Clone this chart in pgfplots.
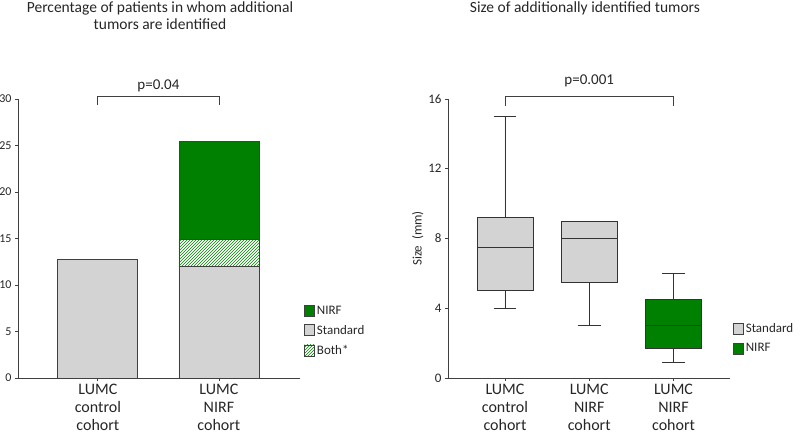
\documentclass[border=0pt]{standalone}
\usepackage{pgfplots}
\pgfplotsset{compat=1.18}
\usepgfplotslibrary{statistics}
\usetikzlibrary{patterns}
\usepackage{fontspec}
\setmainfont{Carlito}
\definecolor{nirf}{RGB}{0,128,0}
\definecolor{std}{RGB}{211,211,211}
\definecolor{edge}{RGB}{64,64,64}
\pgfplotsset{
  sq/.style={legend image code/.code={\draw[##1] (0pt,-5.5pt) rectangle (10pt,5.5pt);}},
  common/.style={
    scale only axis, width=282pt, height=279pt, anchor=south west,
    axis x line*=bottom, axis y line*=left,
    axis line style={edge, line width=0.8pt},
    tick style={edge, line width=0.8pt},
    tick align=outside, major tick length=3pt, minor tick num=0,
    clip=false,
    /pgf/number format/assume math mode=true,
    xticklabel style={align=center, font=\fontsize{16}{18.2}\selectfont, text=black!85, yshift=-1.5pt, inner sep=1pt},
    legend cell align=left,
    legend style={draw=none, fill=none, inner sep=0pt, row sep=5.5pt,
      font=\fontsize{13}{15}\selectfont, text=black!85},
  }
}
\begin{document}
\begin{tikzpicture}
\useasboundingbox (0pt,0pt) rectangle (800pt,-436pt);

\node[anchor=base, font=\fontsize{15.5}{17}\selectfont, text=black!85] at (160pt,-12.7pt) {Percentage of patients in whom additional};
\node[anchor=base, font=\fontsize{15.5}{17}\selectfont, text=black!85] at (160pt,-30pt) {tumors are identified};
\node[anchor=base, font=\fontsize{15.5}{17}\selectfont, text=black!85] at (585pt,-12.5pt) {Size of additionally identified tumors};

\begin{axis}[common, at={(18pt,-378pt)},
  xmin=-0.66, xmax=1.67, ymin=0, ymax=30,
  ytick={0,5,...,30}, xtick={0,1},
  yticklabel style={font=\fontsize{12}{14}\selectfont, text=black!85},
  xticklabels={{LUMC\\control\\cohort},{LUMC\\NIRF\\cohort}},
  ybar stacked, bar width=80pt,
  legend style={at={(1.014,0.267)}, anchor=north west},
]
\addlegendimage{sq, fill=nirf, draw=edge, line width=0.8pt}
\addlegendentry{NIRF}
\addlegendimage{sq, fill=std, draw=edge, line width=0.8pt}
\addlegendentry{Standard}
\addlegendimage{sq, pattern=north east lines, pattern color=nirf, draw=edge, line width=0.8pt}
\addlegendentry{Both*}
\addplot[fill=std, draw=edge, line width=0.8pt] coordinates {(0,12.7) (1,12.0)};
\addplot[pattern=north east lines, pattern color=nirf, draw=edge, line width=0.8pt] coordinates {(0,0) (1,2.9)};
\addplot[fill=nirf, draw=edge, line width=0.8pt] coordinates {(0,0) (1,10.5)};
\draw[edge, line width=0.8pt] (axis cs:0,29.35) -- (axis cs:0,30.25) -- (axis cs:1,30.25) -- (axis cs:1,29.35);
\node[anchor=base, font=\fontsize{15}{18}\selectfont, text=black!85] at (axis cs:0.5,31.0) {p=0.04};
\end{axis}

\begin{axis}[common, at={(448pt,-378pt)},
  xmin=-0.676, xmax=2.67, ymin=0, ymax=16,
  ytick={0,4,...,16}, xtick={0,1,2},
  yticklabel style={font=\fontsize{13}{15}\selectfont, text=black!85},
  xticklabels={{LUMC\\control\\cohort},{LUMC\\NIRF\\cohort},{LUMC\\NIRF\\cohort}},
  ylabel={Size\ \ (mm)},
  ylabel style={font=\fontsize{13}{15}\selectfont, text=black!85, yshift=-2pt},
  boxplot/draw direction=y,
  boxplot/box extend=0.665, boxplot/whisker extend=0.27,
  legend style={at={(1.01,0.203)}, anchor=north west},
]
\addlegendimage{sq, fill=std, draw=edge, line width=0.8pt}
\addlegendentry{Standard}
\addlegendimage{sq, fill=nirf, draw=edge, line width=0.8pt}
\addlegendentry{NIRF}
\addplot[boxplot prepared={draw position=0, lower whisker=4, lower quartile=5, median=7.5, upper quartile=9.2, upper whisker=15}, fill=std, draw=black!80, line width=0.8pt] coordinates {};
\addplot[boxplot prepared={draw position=1, lower whisker=3, lower quartile=5.5, median=8, upper quartile=9, upper whisker=9}, fill=std, draw=black!80, line width=0.8pt] coordinates {};
\addplot[boxplot prepared={draw position=2, lower whisker=0.9, lower quartile=1.7, median=3, upper quartile=4.5, upper whisker=6}, fill=nirf, draw=black!80, line width=0.8pt] coordinates {};
\draw[edge, line width=0.8pt] (axis cs:0,15.6) -- (axis cs:0,16.13) -- (axis cs:2,16.13) -- (axis cs:2,15.6);
\node[anchor=base, font=\fontsize{15}{18}\selectfont, text=black!85] at (axis cs:1,16.85) {p=0.001};
\end{axis}
\end{tikzpicture}
\end{document}
